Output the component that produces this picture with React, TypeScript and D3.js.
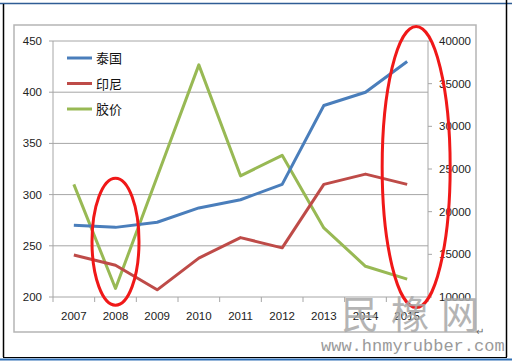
import * as d3 from "d3";

const years = ["2007", "2008", "2009", "2010", "2011", "2012", "2013", "2014", "2015"];
const thailand = [270, 268, 273, 287, 295, 310, 387, 400, 430];
const indonesia = [241, 231, 207, 238, 258, 248, 310, 320, 310];
const rubberPrice = [23200, 11000, 24100, 37200, 24200, 26600, 18100, 13600, 12100];
const leftTicks = [200, 250, 300, 350, 400, 450];
const rightTicks = [10000, 15000, 20000, 25000, 30000, 35000, 40000];

const legend = [
  { name: "泰国", color: "#4a7ebb" },
  { name: "印尼", color: "#be4b48" },
  { name: "胶价", color: "#98b954" },
];

export default function App() {
  const plot = { left: 53, right: 428, top: 41, bottom: 297 };

  const x = d3.scaleBand<string>().domain(years).range([plot.left, plot.right]).padding(0);
  const xc = (y: string) => (x(y) ?? 0) + x.bandwidth() / 2;
  const yL = d3.scaleLinear().domain([200, 450]).range([plot.bottom, plot.top]);
  const yR = d3.scaleLinear().domain([10000, 40000]).range([plot.bottom, plot.top]);

  const leftLine = d3
    .line<number>()
    .x((_, i) => xc(years[i]))
    .y((d) => yL(d));
  const rightLine = d3
    .line<number>()
    .x((_, i) => xc(years[i]))
    .y((d) => yR(d));

  const font = "'Liberation Sans', Arial, sans-serif";
  const cjk = "'Noto Sans CJK SC', sans-serif";

  return (
    <svg
      width={512}
      height={362}
      style={{ position: "absolute", left: 0, top: 0, background: "#fff" }}
    >
      {/* page frame */}
      <line x1={0} x2={512} y1={3.5} y2={3.5} stroke="#2f5d95" strokeWidth={1.5} />
      <line x1={3.5} x2={3.5} y1={4} y2={357} stroke="#000" strokeWidth={1.5} />
      <line x1={506.5} x2={506.5} y1={0} y2={357} stroke="#000" strokeWidth={1.5} />
      <line x1={3} x2={507} y1={357.5} y2={357.5} stroke="#000" strokeWidth={1} />
      <line x1={0} x2={512} y1={359.5} y2={359.5} stroke="#2f6fb5" strokeWidth={2} />

      {/* chart border */}
      <rect x={14} y={25} width={462} height={307} fill="none" stroke="#b5b5b5" strokeWidth={1.5} />

      {/* gridlines */}
      {leftTicks.map((t) => (
        <line
          key={"g" + t}
          x1={plot.left}
          x2={plot.right}
          y1={yL(t)}
          y2={yL(t)}
          stroke="#a6a6a6"
          strokeWidth={1}
        />
      ))}

      {/* axes */}
      <line x1={plot.left} x2={plot.left} y1={plot.top} y2={plot.bottom} stroke="#a6a6a6" />
      <line x1={plot.right} x2={plot.right} y1={plot.top} y2={plot.bottom} stroke="#a6a6a6" />
      {leftTicks.map((t) => (
        <g key={"l" + t}>
          <line x1={plot.left - 4} x2={plot.left} y1={yL(t)} y2={yL(t)} stroke="#a6a6a6" />
          <text x={42} y={yL(t) + 4} textAnchor="end" fontSize={11.5} fontFamily={font} fill="#222">
            {t}
          </text>
        </g>
      ))}
      {rightTicks.map((t) => (
        <g key={"r" + t}>
          <line x1={plot.right} x2={plot.right + 4} y1={yR(t)} y2={yR(t)} stroke="#a6a6a6" />
          <text x={439} y={yR(t) + 4} fontSize={11.5} fontFamily={font} fill="#222">
            {t}
          </text>
        </g>
      ))}
      {years.map((yr, i) => (
        <g key={yr}>
          <line
            x1={(x(yr) ?? 0) + (i === 0 ? 0 : 0)}
            x2={x(yr) ?? 0}
            y1={plot.bottom}
            y2={plot.bottom + 5}
            stroke="#a6a6a6"
          />
          <text x={xc(yr)} y={320} textAnchor="middle" fontSize={11.5} fontFamily={font} fill="#222">
            {yr}
          </text>
        </g>
      ))}
      <line x1={plot.right} x2={plot.right} y1={plot.bottom} y2={plot.bottom + 5} stroke="#a6a6a6" />

      {/* series */}
      <path d={rightLine(rubberPrice) ?? ""} fill="none" stroke="#98b954" strokeWidth={3} strokeLinejoin="round" />
      <path d={leftLine(indonesia) ?? ""} fill="none" stroke="#be4b48" strokeWidth={3} strokeLinejoin="round" />
      <path d={leftLine(thailand) ?? ""} fill="none" stroke="#4a7ebb" strokeWidth={3} strokeLinejoin="round" />

      {/* legend */}
      {legend.map((l, i) => (
        <g key={l.name} transform={`translate(67,${58 + i * 25.5})`}>
          <line x1={0} x2={25} y1={0} y2={0} stroke={l.color} strokeWidth={3} />
          <text x={29} y={5} fontSize={13} fontFamily={cjk} fill="#111">
            {l.name}
          </text>
        </g>
      ))}

      {/* annotations */}
      <ellipse cx={xc("2008")} cy={yL(254)} rx={23.5} ry={63.5} fill="none" stroke="#f01818" strokeWidth={3} />
      <ellipse cx={xc("2015") + 9} cy={yL(327)} rx={34} ry={140.5} fill="none" stroke="#f01818" strokeWidth={3} />

      {/* watermark */}
      <text x={341} y={328} fontSize={38} fontFamily={cjk} fill="#a8a8a8" letterSpacing={12} opacity={0.85}>
        民橡网
      </text>
      <text x={321} y={351} fontSize={17} fontFamily="'Liberation Mono', monospace" fill="#9a9a9a">
        www.hnmyrubber.com
      </text>
      <text x={476} y={335} fontSize={10} fontFamily={font} fill="#666">
        ↵
      </text>
    </svg>
  );
}
